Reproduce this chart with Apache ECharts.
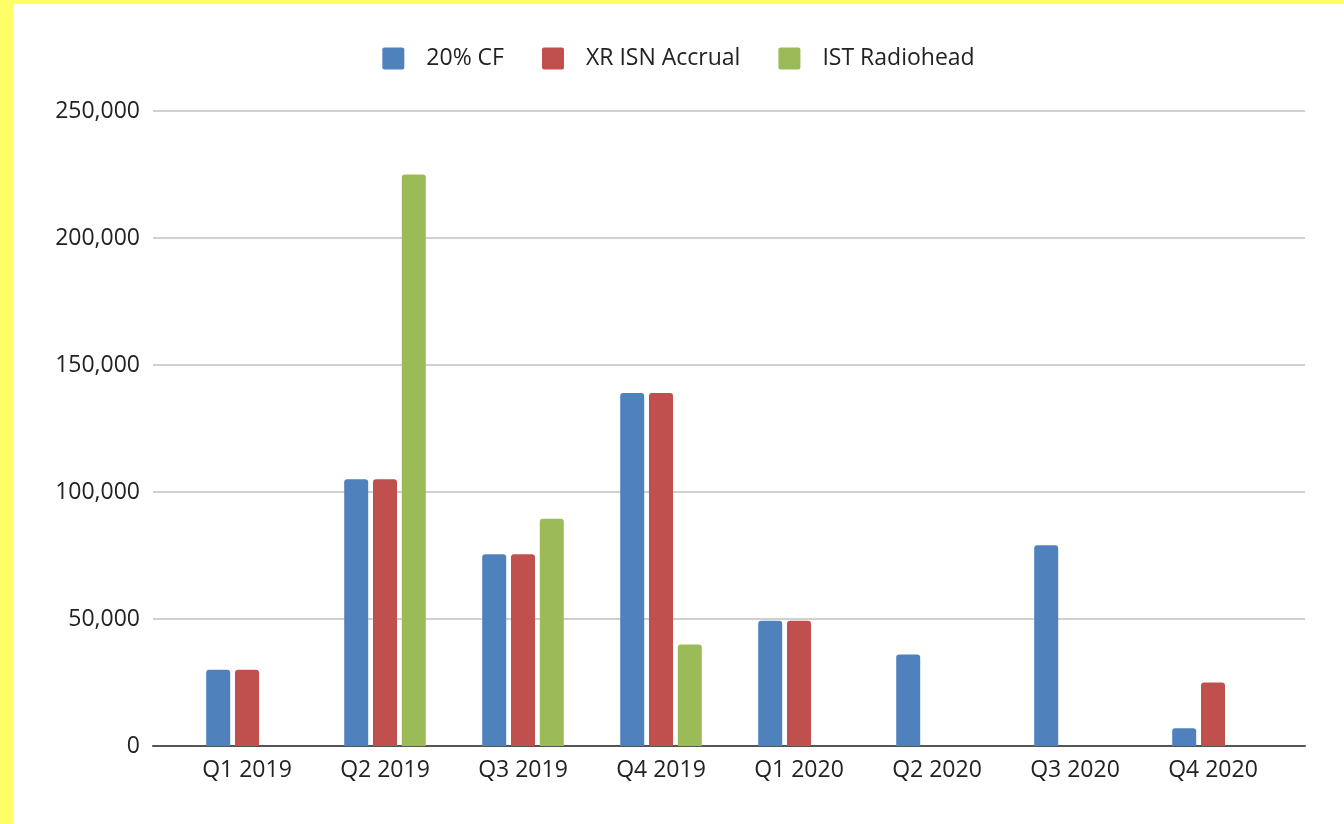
<!DOCTYPE html>
<html>
<head>
<meta charset="utf-8">
<script src="https://cdn.jsdelivr.net/npm/echarts@6/dist/echarts.min.js"></script>
<style>
    html, body { margin: 0; padding: 0; background: #ffff66; }
    #chart { position: absolute; left: 13px; top: 4px; width: 1331px; height: 820px; background: #fff; }
</style>
</head>
<body>
<div id="chart"></div>
<script>
const categories = ['Q1 2019', 'Q2 2019', 'Q3 2019', 'Q4 2019', 'Q1 2020', 'Q2 2020', 'Q3 2020', 'Q4 2020']
const seriesNames = ['20% CF', 'XR ISN Accrual', 'IST Radiohead']
const cfValues = [30000, 105000, 75500, 139000, 49300, 36000, 79000, 7000]
const accrualValues = [30000, 105000, 75500, 139000, 49300, null, null, 25000]
const radioheadValues = [null, 225000, 89500, 40000, null, null, null, null]
const colors = ['#4f81bd', '#c0504d', '#9bbb59']

const font = '"Open Sans", sans-serif'
const textColor = '#222'

const chart = echarts.init(document.getElementById('chart'))

const makeBar = (name, data, color) => ({
    name: name,
    type: 'bar',
    xAxisIndex: 1,
    yAxisIndex: 1,
    data: data,
    barWidth: 24,
    barGap: '20%',
    itemStyle: { color: color, borderRadius: [3, 3, 0, 0] },
})

const option = {
    animation: false,
    textStyle: { fontFamily: font },
    legend: {
        top: 43,
        left: 'center',
        padding: 0,
        itemWidth: 22,
        itemHeight: 22,
        itemGap: 38,
        icon: 'path://M2,0 H20 Q22,0 22,2 V20 Q22,22 20,22 H2 Q0,22 0,20 V2 Q0,0 2,0 Z',
        textStyle: { fontSize: 23, color: textColor, fontFamily: font, padding: [0, 0, 0, 17] },
        data: seriesNames,
    },
    grid: [
        { left: 140, right: 39, top: 107, bottom: 78 },
        { left: 165, right: 62, top: 107, bottom: 78 },
    ],
    xAxis: [
        {
            gridIndex: 0,
            type: 'value',
            min: 0,
            max: 1,
            axisLine: { show: true, lineStyle: { color: '#555', width: 2 } },
            axisTick: { show: false },
            axisLabel: { show: false },
            splitLine: { show: false },
        },
        {
            gridIndex: 1,
            type: 'category',
            data: categories,
            axisLine: { show: false },
            axisTick: { show: false },
            axisLabel: { fontSize: 23, color: textColor, margin: 13, fontFamily: font },
        },
    ],
    yAxis: [
        {
            gridIndex: 0,
            type: 'value',
            min: 0,
            max: 250000,
            interval: 50000,
            axisLine: { show: false },
            axisTick: { show: false },
            axisLabel: {
                fontSize: 23,
                color: textColor,
                margin: 13,
                fontFamily: font,
                formatter: (v) => v.toLocaleString('en-US'),
            },
            splitLine: { lineStyle: { color: '#d0d0d0', width: 2 } },
        },
        {
            gridIndex: 1,
            type: 'value',
            min: 0,
            max: 250000,
            show: false,
            splitLine: { show: false },
        },
    ],
    series: [
        makeBar(seriesNames[0], cfValues, colors[0]),
        makeBar(seriesNames[1], accrualValues, colors[1]),
        makeBar(seriesNames[2], radioheadValues, colors[2]),
    ],
}

chart.setOption(option)
</script>
</body>
</html>
